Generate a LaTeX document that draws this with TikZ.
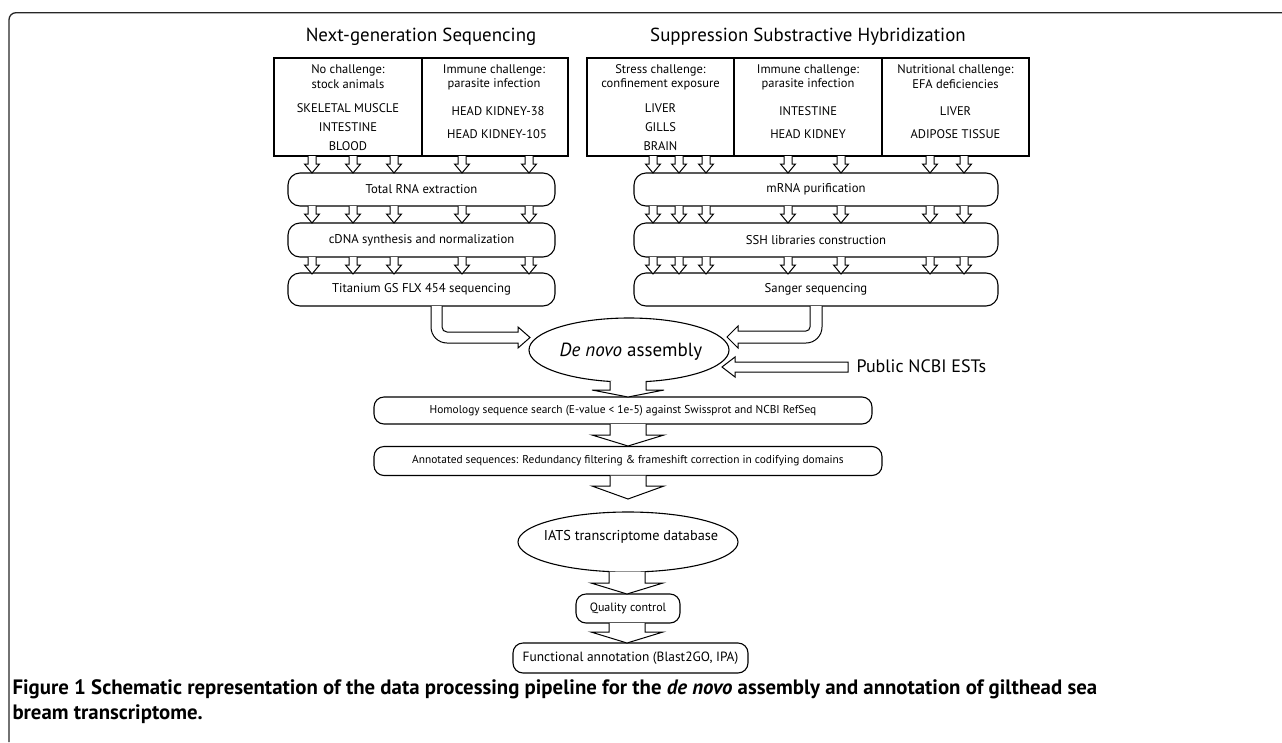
\documentclass[tikz,border=0pt]{standalone}
\usepackage{fontspec}
\setmainfont{PT Sans}
\usetikzlibrary{shapes.geometric}
\begin{document}
\begin{tikzpicture}[x=1pt,y=-1pt,line width=1.1pt,
  ttl/.style={inner sep=0pt,font=\fontsize{18.9}{22}\selectfont},
  btxt/.style={inner sep=0pt,font=\fontsize{12.5}{14}\selectfont},
  cell/.style={draw,inner sep=0pt,minimum height=98pt},
  proc/.style={draw,rounded corners=12pt,inner sep=0pt,font=\fontsize{12.7}{14}\selectfont},
  proc2/.style={draw,rounded corners=10pt,inner sep=0pt,font=\fontsize{11.4}{13}\selectfont},
  oval/.style={draw,ellipse,inner sep=0pt},
  arr/.style={draw,fill=white,line width=1pt,line join=miter}]
\useasboundingbox (0,0) rectangle (1282,742);
% frame
\draw[line width=1.3pt,black!85,rounded corners=7pt] (9,742) -- (9,12.7) -- (1282,12.7);
% titles
\node[ttl] (t1) at (421,37) {Next-generation Sequencing};
\node[ttl] (t2) at (808,37) {Suppression Substractive Hybridization};
% top cells
\node[cell,minimum width=148pt] (na) at (348,107) {};
\node[cell,minimum width=146pt] (nb) at (495,107) {};
\node[cell,minimum width=147pt] (sa) at (660.5,107) {};
\node[cell,minimum width=148pt] (sb) at (808,107) {};
\node[cell,minimum width=147pt] (sc) at (955.5,107) {};
% cell texts
\node[btxt] (na1) at (348,70) {No challenge:};
\node[btxt] (na2) at (348,84) {stock animals};
\node[btxt] (na3) at (348,108) {SKELETAL MUSCLE};
\node[btxt] (na4) at (348,127) {INTESTINE};
\node[btxt] (na5) at (348,146) {BLOOD};
\node[btxt] (nb1) at (494,70) {Immune challenge:};
\node[btxt] (nb2) at (494,84) {parasite infection};
\node[btxt] (nb3) at (498,111) {HEAD KIDNEY-38};
\node[btxt] (nb4) at (497,134) {HEAD KIDNEY-105};
\node[btxt] (sa1) at (660.5,70) {Stress challenge:};
\node[btxt] (sa2) at (660.5,84) {confinement exposure};
\node[btxt] (sa3) at (660.5,108) {LIVER};
\node[btxt] (sa4) at (660.5,127) {GILLS};
\node[btxt] (sa5) at (660.5,146) {BRAIN};
\node[btxt] (sb1) at (808,70) {Immune challenge:};
\node[btxt] (sb2) at (808,84) {parasite infection};
\node[btxt] (sb3) at (808,111) {INTESTINE};
\node[btxt] (sb4) at (808,134) {HEAD KIDNEY};
\node[btxt] (sc1) at (955.5,70) {Nutritional challenge:};
\node[btxt] (sc2) at (955.5,84) {EFA deficiencies};
\node[btxt] (sc3) at (955.5,111) {LIVER};
\node[btxt] (sc4) at (955.5,134) {ADIPOSE TISSUE};
% process boxes
\node[proc,minimum width=267pt,minimum height=33pt] (rna) at (421.5,189.5) {Total RNA extraction};
\node[proc,minimum width=267pt,minimum height=34pt] (cdna) at (421.5,240) {cDNA synthesis and normalization};
\node[proc,minimum width=267pt,minimum height=33pt] (tit) at (421.5,289.5) {Titanium GS FLX 454 sequencing};
\node[proc,minimum width=364pt,minimum height=33pt] (mrna) at (816,189.5) {mRNA purification};
\node[proc,minimum width=364pt,minimum height=34pt] (sshl) at (816,240) {SSH libraries construction};
\node[proc,minimum width=364pt,minimum height=33pt] (sang) at (816,289.5) {Sanger sequencing};
% small arrows
\foreach \x in {312,353,394,462,529,653,679,706,788,841,930,964}{
  \foreach \y in {156,206,257}{
    \draw[arr] (\x,\y) ++(-4,0) -- ++(0,8) -- ++(-3.5,0) -- ++(7.5,9) -- ++(7.5,-9) -- ++(-3.5,0) -- ++(0,-8);
  }
}
% de novo ellipse
\node[oval,minimum width=200pt,minimum height=64pt] (dn) at (629,350) {};
\node[inner sep=0pt,font=\fontsize{19}{22}\selectfont] (dnt) at (631,352) {\textit{De novo} assembly};
% bent arrows
\draw[arr] (431,306) -- (431,327) .. controls (431,335.8) and (438.2,343) .. (447,343) -- (518,343) -- (518,348) -- (530,337.5) -- (518,327) -- (518,332) -- (447,332) .. controls (444.2,332) and (442,329.8) .. (442,327) -- (442,306);
\draw[arr] (822,306) -- (822,327) .. controls (822,335.8) and (814.8,343) .. (806,343) -- (738,343) -- (738,348) -- (727,337) -- (738,326) -- (738,331) -- (806,331) .. controls (808.2,331) and (810,329.2) .. (810,327) -- (810,306);
% public ESTs
\node[anchor=west,inner sep=0pt,font=\fontsize{18}{20}\selectfont] (pub) at (856,366) {Public NCBI ESTs};
\draw[arr] (848,362) -- (735,362) -- (735,357) -- (722,367) -- (735,377) -- (735,372) -- (848,372) -- cycle;
% pipeline
\node[proc2,minimum width=498pt,minimum height=27pt] (hom) at (623,410.5) {Homology sequence search (E-value < 1e-5) against Swissprot and NCBI RefSeq};
\node[proc2,minimum width=508pt,minimum height=29pt] (ann) at (628,461) {Annotated sequences: Redundancy filtering \& frameshift correction in codifying domains};
\node[oval,minimum width=220pt,minimum height=60pt] (iats) at (628,542) {};
\node[inner sep=0pt,font=\fontsize{14.3}{16}\selectfont] (iatst) at (631,537) {IATS transcriptome database};
\node[proc2,minimum width=104pt,minimum height=29pt,font=\fontsize{12}{14}\selectfont] (qc) at (628,608.5) {Quality control};
\node[proc2,minimum width=235pt,minimum height=30pt,font=\fontsize{13.4}{15}\selectfont] (func) at (630.5,658) {Functional annotation (Blast2GO, IPA)};
% big arrows
\draw[arr] (628,381) ++(-18,0) -- ++(0,9) -- ++(-18,0) -- ++(36,7) -- ++(36,-7) -- ++(-18,0) -- ++(0,-9);
\draw[arr] (628,424) ++(-18,0) -- ++(0,11) -- ++(-18,0) -- ++(36,11) -- ++(36,-11) -- ++(-18,0) -- ++(0,-11);
\draw[arr] (628,475.5) ++(-18,0) -- ++(0,10.5) -- ++(-18,0) -- ++(36,13) -- ++(36,-13) -- ++(-18,0) -- ++(0,-10.5);
\draw[arr] (627,571.5) ++(-18,0) -- ++(0,11.5) -- ++(-18,0) -- ++(36,11) -- ++(36,-11) -- ++(-18,0) -- ++(0,-11.5);
\draw[arr] (627,623) ++(-18,0) -- ++(0,9) -- ++(-18,0) -- ++(36,11) -- ++(36,-11) -- ++(-18,0) -- ++(0,-9);
% caption
\node[anchor=base west,inner sep=0pt,font=\bfseries\fontsize{20.8}{25}\selectfont] (cap1) at (12,694) {Figure 1 Schematic representation of the data processing pipeline for the \textit{de novo} assembly and annotation of gilthead sea};
\node[anchor=base west,inner sep=0pt,font=\bfseries\fontsize{20.8}{25}\selectfont] (cap2) at (12,719) {bream transcriptome.};
\end{tikzpicture}
\end{document}
